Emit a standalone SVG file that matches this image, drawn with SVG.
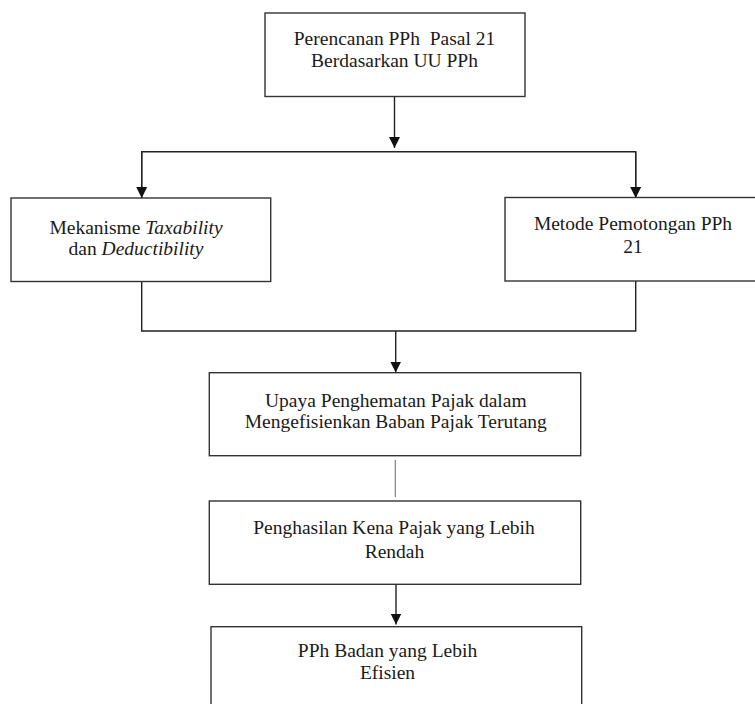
<svg xmlns="http://www.w3.org/2000/svg" width="755" height="704" viewBox="0 0 755 704">
<style>
.box{fill:#fff;stroke:#333;stroke-width:1.4}
.t{font-family:"Liberation Serif","Times New Roman",serif;font-size:19.5px;fill:#1a1a1a;text-anchor:middle}
.c{fill:none;stroke:#222;stroke-width:1.4}
.g{fill:none;stroke:#777;stroke-width:1.1}
</style>
<defs>
<marker id="ah" markerUnits="userSpaceOnUse" markerWidth="12" markerHeight="12" refX="11" refY="6" orient="auto">
<path d="M0,0.5 L11,6 L0,11.5 Z" fill="#111"/>
</marker>
</defs>
<rect width="755" height="704" fill="#fff"/>
<g id="connectors">
<line class="c" x1="394.5" y1="96" x2="394.5" y2="148" marker-end="url(#ah)"/>
<polyline class="c" points="141.7,198 141.7,151.7 635.7,151.7 635.7,198"/>
<line class="c" x1="141.7" y1="151.7" x2="141.7" y2="198" marker-end="url(#ah)"/>
<line class="c" x1="635.7" y1="151.7" x2="635.7" y2="198" marker-end="url(#ah)"/>
<polyline class="c" points="141.7,282 141.7,331 635.7,331 635.7,281"/>
<line class="c" x1="395.7" y1="331" x2="395.7" y2="372.5" marker-end="url(#ah)"/>
<line class="g" x1="395.3" y1="460" x2="395.3" y2="497"/>
<line class="c" x1="396" y1="584" x2="396" y2="624.5" marker-end="url(#ah)"/>
</g>
<g id="n1">
<rect class="box" x="265" y="13" width="260" height="83.5"/>
<text class="t" x="394.5" y="45" xml:space="preserve">Perencanan PPh  Pasal 21</text>
<text class="t" x="394.5" y="66.7">Berdasarkan UU PPh</text>
</g>
<g id="n2">
<rect class="box" x="11" y="198" width="259.7" height="83.5"/>
<text class="t" x="136" y="234">Mekanisme <tspan font-style="italic">Taxability</tspan></text>
<text class="t" x="136" y="255">dan <tspan font-style="italic">Deductibility</tspan></text>
</g>
<g id="n3">
<rect class="box" x="505" y="197.5" width="260" height="83.5"/>
<text class="t" x="633" y="230">Metode Pemotongan PPh</text>
<text class="t" x="633" y="253.3">21</text>
</g>
<g id="n4">
<rect class="box" x="209.3" y="372.7" width="371.4" height="83"/>
<text class="t" x="395.8" y="406.7">Upaya Penghematan Pajak dalam</text>
<text class="t" x="395.8" y="428.3">Mengefisienkan Baban Pajak Terutang</text>
</g>
<g id="n5">
<rect class="box" x="209.3" y="501" width="371.4" height="83.3"/>
<text class="t" x="394" y="534.3">Penghasilan Kena Pajak yang Lebih</text>
<text class="t" x="394.5" y="558.3">Rendah</text>
</g>
<g id="n6">
<rect class="box" x="211" y="626.7" width="370.7" height="90"/>
<text class="t" x="387.5" y="656.7">PPh Badan yang Lebih</text>
<text class="t" x="387.5" y="679.3">Efisien</text>
</g>
</svg>
